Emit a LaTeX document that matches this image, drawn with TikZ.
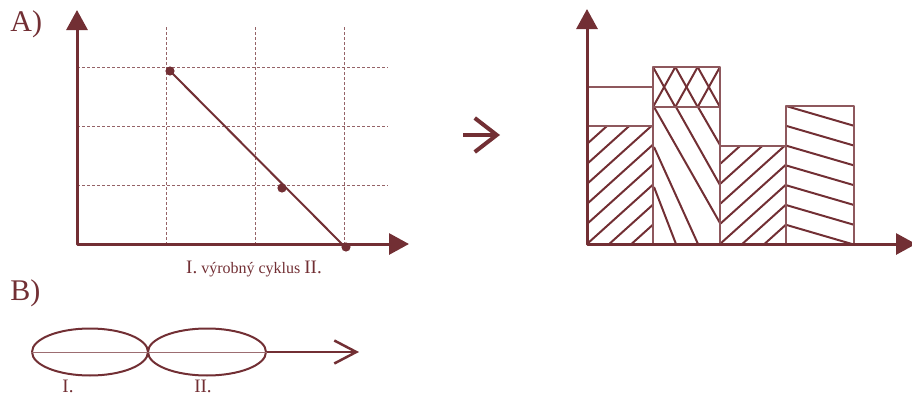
\documentclass[tikz,border=0pt]{standalone}
\usepackage{fontspec}
\setmainfont{Liberation Serif}
\usetikzlibrary{arrows.meta, shapes.geometric}
\definecolor{wine}{RGB}{114,47,52}

\begin{document}
\begin{tikzpicture}[x=0.5pt, y=-0.5pt, wine, line join=round,
  axis/.style={line width=1.5pt,
    {Triangle[length=10pt, width=10.5pt]}-{Triangle[length=10pt, width=10.5pt]}},
  gridline/.style={wine!75, line width=0.45pt, dash pattern=on 1.5pt off 1pt},
  bar/.style={wine!80, line width=0.7pt},
  hatch/.style={line width=1pt},
  dot/.style={circle, fill, inner sep=0pt, minimum size=4.6pt},
  phase/.style={ellipse, draw, line width=1pt, minimum height=23.5pt, inner sep=0pt},
  big/.style={font=\fontsize{15}{18}\selectfont, inner sep=0pt},
  roman/.style={font=\fontsize{9.5}{11}\selectfont, inner sep=0.5pt}]

  \useasboundingbox (0,0) rectangle (912,396);

  \node[big, anchor=base west] (lblA) at (10,32) {A)};
  \node[big, anchor=base west] (lblB) at (10,300) {B)};

  % A) left chart
  \coordinate (Y1) at (77,10);
  \coordinate (O1) at (77,244);
  \coordinate (X1) at (409,244);
  \coordinate (E1) at (342,244);

  \foreach \x in {166,255,344}
    \draw[gridline] (\x,27) -- (\x,244);
  \foreach \y in {67,126,185}
    \draw[gridline] (77,\y) -- (388,\y);

  \node[dot] (P1) at (170,71) {};
  \node[dot] (P2) at (282,188) {};
  \node[dot] (P3) at (346,247) {};
  \draw[line width=1pt] (P1.center) -- (E1);

  \draw[axis] (Y1) -- (O1) -- (X1);

  \node[anchor=base, font=\fontsize{8}{10}\selectfont] (cyc) at (254,273)
    {{\fontsize{9.5}{11}\selectfont I.} výrobný cyklus {\fontsize{9.5}{11}\selectfont II.}};

  % middle arrow
  \coordinate (m1) at (463,135);
  \coordinate (m2) at (500,135);
  \draw[line width=2pt, -{Straight Barb[length=11pt, width=17pt]}] (m1) -- (m2);

  % A) right chart -- bar 1
  \begin{scope}
    \clip (587,126) rectangle (653,244);
    \foreach \k in {-3,...,5}
      \draw[hatch] (587,{244-20*\k}) -- (653,{184.6-20*\k});
  \end{scope}
  \draw[bar] (587,87) rectangle (653,244);
  \draw[bar] (587,126) -- (653,126);

  % bar 2
  \begin{scope}
    \clip (653,67) rectangle (720,107);
    \foreach \k in {0,1,2} {
      \draw[hatch] ({653+22.33*\k},67) -- +(22.33,40);
      \draw[hatch] ({653+22.33*\k},107) -- +(22.33,-40);
    }
  \end{scope}
  \draw[hatch] (654,107) -- (720,223);
  \draw[hatch] (676,107) -- (720,185);
  \draw[hatch] (698,107) -- (720,145);
  \draw[hatch] (654,147) -- (698,244);
  \draw[hatch] (654,187) -- (676,244);
  \draw[bar] (653,67) rectangle (720,244);
  \draw[bar] (653,107) -- (720,107);

  % bar 3
  \begin{scope}
    \clip (720,146) rectangle (786,244);
    \foreach \k in {-3,...,4}
      \draw[hatch] (720,{244-20*\k}) -- (786,{184.6-20*\k});
  \end{scope}
  \draw[bar] (720,146) rectangle (786,244);

  % bar 4
  \foreach \k in {0,...,6}
    \draw[hatch] (786,{106+19.8*\k}) -- (854,{125.8+19.8*\k});
  \draw[bar] (786,106) rectangle (854,244);

  \coordinate (Y2) at (587,9);
  \coordinate (O2) at (587,244);
  \coordinate (X2) at (916,244);
  \draw[axis] (Y2) -- (O2) -- (X2);

  % B) phases
  \node[phase, minimum width=58pt] (ph1) at (90,352) {};
  \node[phase, minimum width=59pt] (ph2) at (207,352) {};
  \coordinate (tipB) at (359,352);
  \draw[wine!70, line width=0.4pt] (ph1.west) -- (ph2.east);
  \draw[line width=1.25pt, -{Straight Barb[length=11pt, width=11.5pt]}] (ph2.east) -- (tipB);

  \node[roman, anchor=base] (r1) at (68,392) {I.};
  \node[roman, anchor=base] (r2) at (203,392) {II.};
\end{tikzpicture}
\end{document}
